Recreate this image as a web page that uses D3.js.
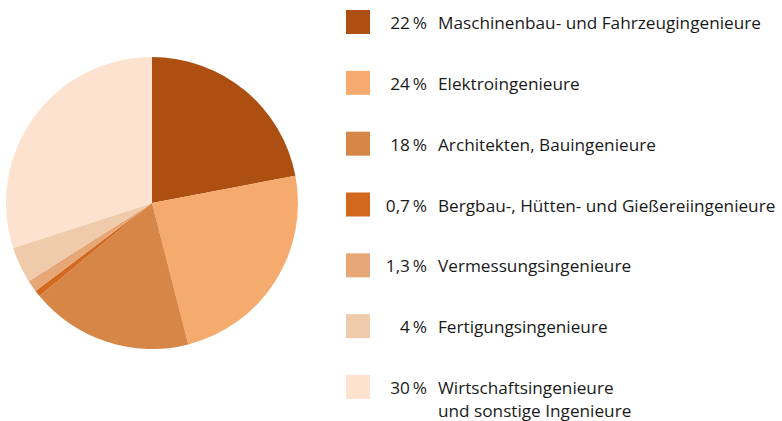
<!DOCTYPE html>
<html>
<head>
<meta charset="utf-8">
<script src="https://cdn.jsdelivr.net/npm/d3@7"></script>
<style>
  body { margin: 0; background: #fff; }
  svg { display: block; }
</style>
</head>
<body>
<div id="chart"></div>
<script>
// data
const shares = [22, 24, 18, 0.7, 1.3, 4, 30];
const shareLabels = ["22", "24", "18", "0,7", "1,3", "4", "30"];
const groups = [
  ["Maschinenbau- und Fahrzeugingenieure"],
  ["Elektroingenieure"],
  ["Architekten, Bauingenieure"],
  ["Bergbau-, Hütten- und Gießereiingenieure"],
  ["Vermessungsingenieure"],
  ["Fertigungsingenieure"],
  ["Wirtschaftsingenieure", "und sonstige Ingenieure"]
];
const colors = ["#ad4f11", "#f5aa6e", "#d68646", "#d2691f", "#e6a675", "#f0cbab", "#fde3cf"];

const width = 782, height = 421;
const cx = 152, cy = 203, radius = 146;

const svg = d3.select("#chart").append("svg")
  .attr("width", width)
  .attr("height", height)
  .attr("viewBox", [0, 0, width, height]);

const color = d3.scaleOrdinal().domain(d3.range(shares.length)).range(colors);

const pie = d3.pie().sort(null).value(d => d);
const arc = d3.arc().innerRadius(0).outerRadius(radius);

svg.append("g")
  .attr("transform", `translate(${cx},${cy})`)
  .selectAll("path")
  .data(pie(shares))
  .join("path")
  .attr("d", arc)
  .attr("fill", (d, i) => color(i));

// legend
const y = d3.scalePoint()
  .domain(d3.range(shares.length))
  .range([22, 387]);

const legend = svg.append("g")
  .style("font-family", "'Open Sans', sans-serif")
  .style("font-size", "17.2px")
  .attr("fill", "#1a1a1a");

const row = legend.selectAll("g")
  .data(shares)
  .join("g")
  .attr("transform", (d, i) => `translate(0,${y(i)})`);

row.append("rect")
  .attr("x", 346)
  .attr("y", -12)
  .attr("width", 24)
  .attr("height", 24)
  .attr("fill", (d, i) => color(i));

row.append("text")
  .attr("x", 427)
  .attr("y", 7)
  .attr("text-anchor", "end")
  .text((d, i) => `${shareLabels[i]}\u2009%`);

row.append("text")
  .attr("x", 438)
  .attr("y", 7)
  .selectAll("tspan")
  .data((d, i) => groups[i])
  .join("tspan")
  .attr("x", 438)
  .attr("dy", (d, j) => j ? 23 : 0)
  .text(d => d);
</script>
</body>
</html>
